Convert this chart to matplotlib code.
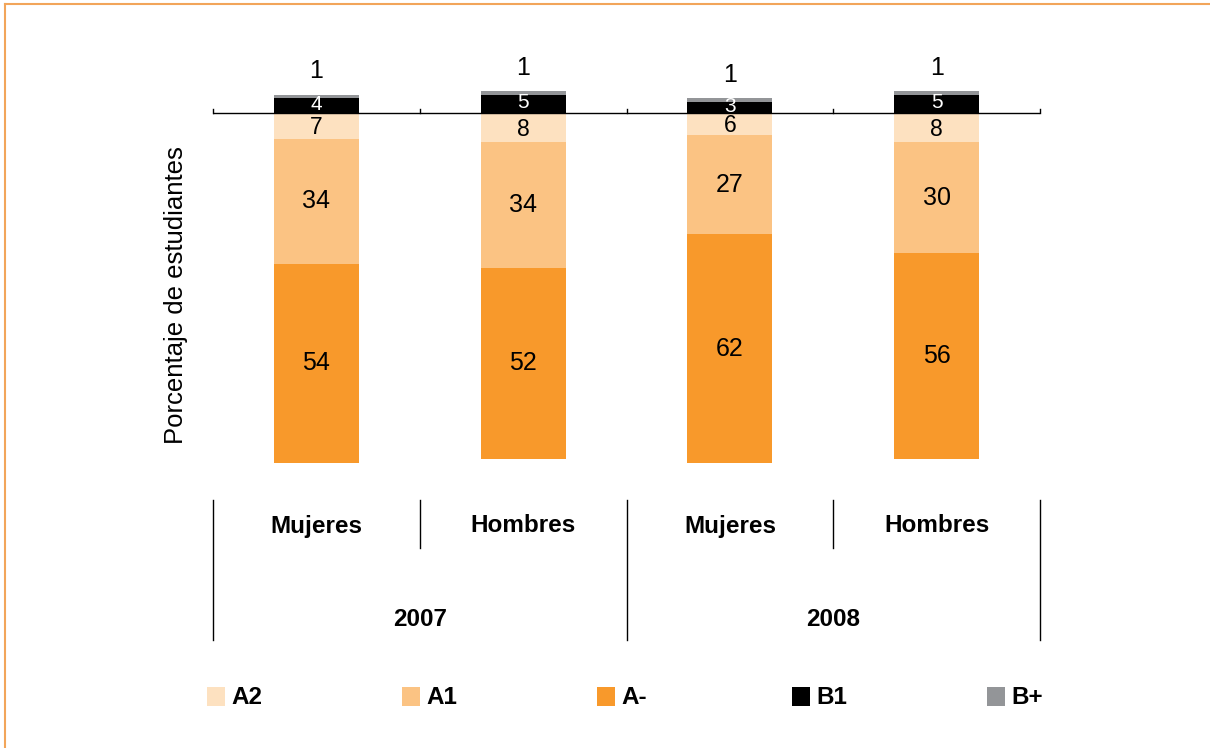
import matplotlib
matplotlib.use("Agg")
import matplotlib.pyplot as plt
from matplotlib import transforms
from matplotlib.patches import Rectangle
from matplotlib.lines import Line2D

plt.rcParams['font.family'] = ['Liberation Sans', 'DejaVu Sans']

groups = ["Mujeres", "Hombres", "Mujeres", "Hombres"]
years = ["2007", "2008"]
levels = ["A2", "A1", "A-", "B1", "B+"]
A2 = [7, 8, 6, 8]
A1 = [34, 34, 27, 30]
Aminus = [54, 52, 62, 56]
B1 = [4, 5, 3, 5]
Bplus = [1, 1, 1, 1]

colors = {"A2": "#FDE1C0", "A1": "#FBC383", "A-": "#F8992B", "B1": "#000000", "B+": "#939598"}

W, H = 1210, 748
fig = plt.figure(figsize=(W / 100, H / 100), dpi=100)

# axes placement in pixels
x0, x1 = 213, 1040
base_px = 113
ppu = 3.68
ymin, ymax = -100, 15
top_px = base_px - ymax * ppu
bot_px = base_px - ymin * ppu
ax = fig.add_axes([x0 / W, 1 - bot_px / H, (x1 - x0) / W, (bot_px - top_px) / H])
ax.set_xlim(0, 4)
ax.set_ylim(ymin, ymax)
for s in ax.spines.values():
    s.set_visible(False)
ax.set_yticks([])
ax.set_xticks([])

xs = [i + 0.5 for i in range(4)]
bw = 0.41
fs = 18

for i, x in enumerate(xs):
    # negative side
    b = 0
    for name, vals in (("A2", A2), ("A1", A1), ("A-", Aminus)):
        v = vals[i]
        ax.bar(x, -v, bottom=b, width=bw, color=colors[name], linewidth=0)
        off = -0.4 if name == "A2" else 0
        ax.text(x, b - v / 2 + off, str(v), ha="center", va="center",
                fontsize=(16.5 if name == "A2" else fs), color="black")
        b -= v
    # positive side
    ax.bar(x, B1[i], bottom=0, width=bw, color=colors["B1"], linewidth=0)
    ax.text(x, B1[i] / 2 + 0.4, str(B1[i]), ha="center", va="center", fontsize=15, color="white")
    ax.bar(x, Bplus[i], bottom=B1[i], width=bw, color=colors["B+"], linewidth=0)
    ax.text(x, B1[i] + Bplus[i] + 6.3, str(Bplus[i]), ha="center", va="center", fontsize=fs, color="black")

# baseline with ticks at category boundaries
ax.axhline(0, color="black", lw=1.0, xmin=0, xmax=1)
for k in range(5):
    ax.plot([k, k], [0, 1.1], color="black", lw=1.0, clip_on=False)

def fy(p):
    return 1 - p / H

fig.text(176 / W, fy(295), "Porcentaje de estudiantes", rotation=90, ha="center", va="center", fontsize=18.5)

# grouped category axis below
tr = transforms.blended_transform_factory(ax.transData, fig.transFigure)
for k in range(5):
    y_end = 640 if k in (0, 2, 4) else 548
    fig.add_artist(Line2D([k, k], [fy(500), fy(y_end)], transform=tr, color="black", lw=1.0))
for i, x in enumerate(xs):
    fig.text(x, fy(526), groups[i], transform=tr, ha="center", va="center", fontsize=17.5, fontweight="bold")
for j, yr in enumerate(years):
    fig.text(2 * j + 1, fy(619), yr, transform=tr, ha="center", va="center", fontsize=17.5, fontweight="bold")

# legend
leg_x = [207, 402, 597, 792, 987]
for lx, name in zip(leg_x, levels):
    fig.add_artist(Rectangle((lx / W, fy(706)), 18 / W, 19 / H, transform=fig.transFigure,
                             color=colors[name], linewidth=0))
    fig.text((lx + 24) / W, fy(697), name, ha="left", va="center", fontsize=17.5, fontweight="bold")

# orange frame top and left
fig.add_artist(Line2D([5 / W, 1], [fy(4), fy(4)], transform=fig.transFigure, color="#F2A55A", lw=1.5))
fig.add_artist(Line2D([5 / W, 5 / W], [fy(4), 0], transform=fig.transFigure, color="#F2A55A", lw=1.5))

fig.savefig("out.png", dpi=100)
